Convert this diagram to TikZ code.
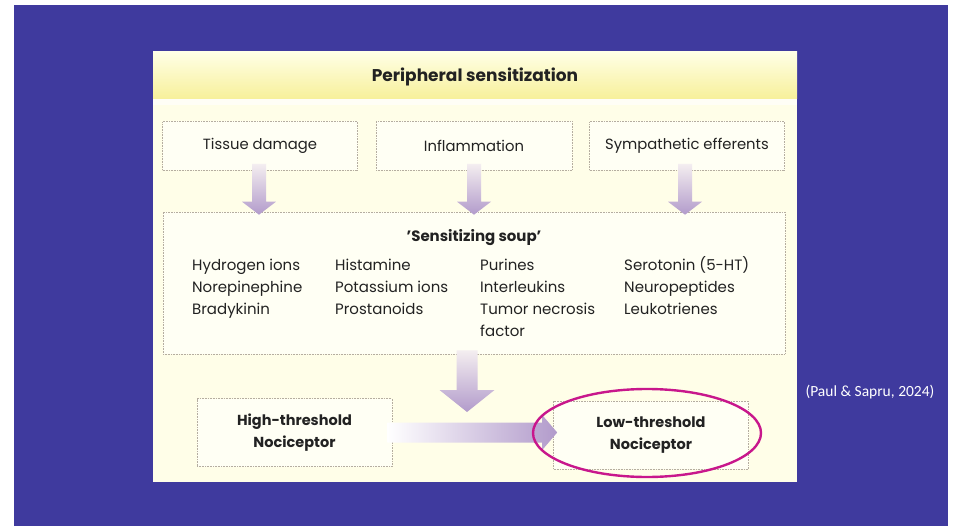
\documentclass[tikz,border=0pt]{standalone}
\usepackage{fontspec}
\setmainfont{Poppins}
\newfontfamily\citefont{Carlito}
\usetikzlibrary{positioning,calc,shapes.geometric}

\definecolor{slidebg}{HTML}{3F3A9E}
\definecolor{panelbg}{HTML}{FFFEE8}
\definecolor{bandtop}{HTML}{FFFFE6}
\definecolor{bandbot}{HTML}{F7F09A}
\definecolor{boxfill}{HTML}{FFFFF4}
\definecolor{boxline}{HTML}{B5ADA0}
\definecolor{arrowtop}{HTML}{F4EEF0}
\definecolor{arrowbot}{HTML}{B29BCB}
\definecolor{ringcol}{HTML}{C8178C}
\definecolor{inkcol}{HTML}{222222}

% shaded block arrows: start, tip, half shaft, half head, head length
\newcommand{\downblock}[5]{%
  \shade[top color=arrowtop, bottom color=arrowbot] let \p1=(#1), \p2=(#2) in
    (\x1-#3pt,\y1) -- (\x1+#3pt,\y1) -- (\x1+#3pt,\y2+#5pt) -- (\x1+#4pt,\y2+#5pt)
    -- (\x1,\y2) -- (\x1-#4pt,\y2+#5pt) -- (\x1-#3pt,\y2+#5pt) -- cycle;}
\newcommand{\rightblock}[5]{%
  \shade[left color=white, right color=arrowbot] let \p1=(#1), \p2=(#2) in
    (\x1,\y1+#3pt) -- (\x1,\y1-#3pt) -- (\x2-#5pt,\y1-#3pt) -- (\x2-#5pt,\y1-#4pt)
    -- (\x2,\y1) -- (\x2-#5pt,\y1+#4pt) -- (\x2-#5pt,\y1+#3pt) -- cycle;}

\begin{document}
\begin{tikzpicture}[
    x=1pt, y=-1pt,
    box/.style={rectangle, draw=boxline, densely dotted, line width=0.6pt, fill=boxfill,
      inner sep=0pt, align=center, text=inkcol, font=\fontsize{14.8}{18}\selectfont},
    nocibox/.style={box, minimum width=195pt, minimum height=68pt,
      font=\fontsize{14.5}{22}\selectfont\bfseries},
    listcol/.style={anchor=north west, inner sep=0pt, align=left, text=inkcol,
      font=\fontsize{15}{22}\selectfont}
]
\useasboundingbox (0,0) rectangle (955,526);

% slide and panel
\fill[slidebg] (14,5) rectangle (948,526);
\fill[panelbg] (153,52) rectangle (797,482);
\shade[top color=bandtop, bottom color=bandbot] (153,52) rectangle (797,99);
\fill[white!60!panelbg] (153,99) rectangle (797,105);

% title
\node[text=inkcol, font=\fontsize{17}{20}\selectfont\bfseries] (title) at (475,77) {Peripheral sensitization};

% causes
\node[box, minimum width=195pt, minimum height=49pt] (tissue) at (260,146) {Tissue damage};
\node[box, minimum width=196pt, minimum height=49pt] (inflam) at (474,146) {Inflammation};
\node[box, minimum width=195pt, minimum height=49pt] (symp) at (687,146) {Sympathetic efferents};

% sensitizing soup
\node[box, minimum width=622pt, minimum height=142pt] (soup) at (474,283) {};
\node[text=inkcol, font=\fontsize{15}{18}\selectfont\bfseries] (souptitle) at (474,238) {'Sensitizing soup'};
\node[listcol] (col1) at (192,256) {\rule{0pt}{14pt}Hydrogen ions\\Norepinephine\\Bradykinin};
\node[listcol] (col2) at (335,256) {\rule{0pt}{14pt}Histamine\\Potassium ions\\Prostanoids};
\node[listcol] (col3) at (480,256) {\rule{0pt}{14pt}Purines\\Interleukins\\Tumor necrosis\\factor};
\node[listcol] (col4) at (624,256) {\rule{0pt}{14pt}Serotonin (5-HT)\\Neuropeptides\\Leukotrienes};

% nociceptors
\node[nocibox] (high) at (294.5,432.5) {High-threshold\\Nociceptor};
\node[nocibox] (low) at (651,435) {Low-threshold\\Nociceptor};
\coordinate (merge) at (467,412);

% arrows
\downblock{$(tissue.south)+(-1pt,7pt)$}{$(soup.north)+(0pt,-3pt)$}{7}{17}{13}
\downblock{$(inflam.south)+(0pt,7pt)$}{$(soup.north)+(0pt,-3pt)$}{7}{17}{13}
\downblock{$(symp.south)+(-2pt,7pt)$}{$(soup.north)+(0pt,-3pt)$}{7}{17}{13}
\downblock{$(soup.south)+(-7pt,4pt)$}{merge}{10.5}{27.5}{22}
\rightblock{$(high.east)+(-5pt,0pt)$}{$(low.west)+(4pt,0pt)$}{10}{17.5}{15}

% highlight
\node[ellipse, draw=ringcol, line width=2.4pt, minimum width=228pt, minimum height=88pt] (ring) at ($(low.center)+(-4pt,2pt)$) {};

% source
\node[text=white, font=\citefont\fontsize{15.5}{18}\selectfont] (source) at (870,392) {(Paul \& Sapru, 2024)};
\end{tikzpicture}
\end{document}
